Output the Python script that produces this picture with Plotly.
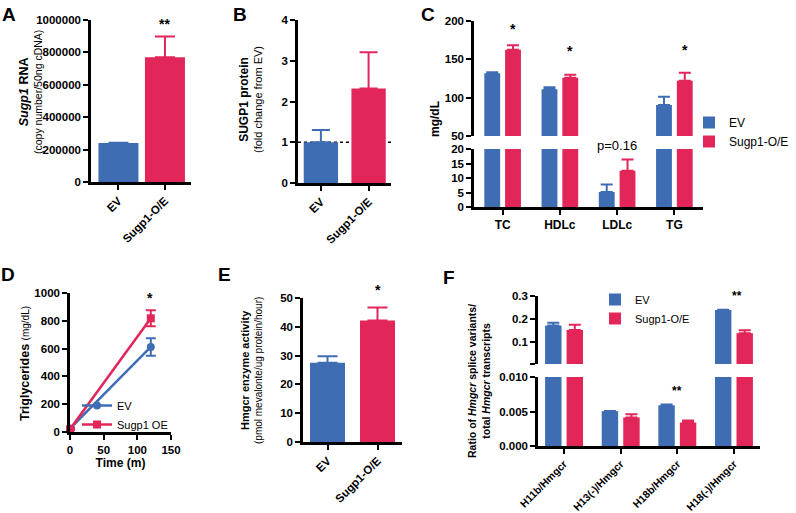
import plotly.graph_objects as go

W, H = 796, 513
BLUE = "#3F6DB4"
RED = "#E2265A"
FONT = "Liberation Sans, Arial, sans-serif"

# ---------------- data ----------------
groups = ["EV", "Sugp1-O/E"]

# A: Sugp1 RNA copy number
a_values = [240000, 770000]
a_err = [3000, 128000]

# B: SUGP1 protein fold change
b_values = [1.0, 2.32]
b_err = [0.30, 0.89]
b_baseline = 1.0

# C: plasma lipids (mg/dL)
c_categories = ["TC", "HDLc", "LDLc", "TG"]
c_ev = [132, 111, 5.2, 90.5]
c_ev_err = [1.2, 2.5, 2.6, 10.8]
c_oe = [162.5, 126, 12.5, 122]
c_oe_err = [5.8, 4.0, 3.9, 10.5]
c_upper_range = [50, 200]
c_lower_range = [0, 20]

# D: triglyceride secretion
d_time = [0, 120]
d_ev = [25, 612]
d_ev_err = [8, 63]
d_oe = [20, 818]
d_oe_err = [8, 57]

# E: Hmgcr enzyme activity
e_values = [27.5, 42.2]
e_err = [2.3, 4.5]

# F: Hmgcr splice variants
f_categories = ["H11b/Hmgcr", "H13(-)/Hmgcr", "H18b/Hmgcr", "H18(-)/Hmgcr"]
f_ev = [0.172, 0.00505, 0.0059, 0.239]
f_ev_err = [0.012, 0.00004, 0.0001, 0.002]
f_oe = [0.153, 0.00414, 0.0034, 0.139]
f_oe_err = [0.022, 0.00046, 0.0003, 0.013]
f_upper_range = [0.0056, 0.3]
f_lower_range = [0, 0.010]


def dx(l, r):
    return [l / W, r / W]


def dy(t, b):
    return [1 - b / H, 1 - t / H]


def px(x):
    return x / W


def py(y):
    return 1 - y / H


def segment(values, errs, lower_max, upper):
    """split a series over a broken axis: bars whose top lies in the lower
    segment are only drawn there; error bars only where the top is visible"""
    if upper:
        vals = [v if v > lower_max else None for v in values]
        es = [e if v > lower_max else None for v, e in zip(values, errs)]
    else:
        vals = list(values)
        es = [e if v <= lower_max else None for v, e in zip(values, errs)]
    return vals, es


TICKFONT = dict(family=FONT, size=11.5, color="black", weight="bold")
AX = dict(showline=True, linecolor="black", linewidth=2.5, ticks="outside",
          ticklen=5, tickwidth=2, tickcolor="black", showgrid=False,
          zeroline=False, tickfont=TICKFONT, automargin=False, fixedrange=True)

fig = go.Figure()


def err(arr, color, w):
    return dict(type="data", array=arr, symmetric=False, arrayminus=[0] * len(arr),
                color=color, thickness=2, width=w, visible=True)


colors = [BLUE, RED]

# ---- A ----
for i in range(2):
    fig.add_trace(go.Bar(x=[groups[i]], y=[a_values[i]], width=0.86,
                         marker=dict(color=colors[i], line=dict(width=0)),
                         error_y=err([a_err[i]], colors[i], 10),
                         xaxis="x", yaxis="y", showlegend=False))
# ---- B ----
for i in range(2):
    fig.add_trace(go.Bar(x=[groups[i]], y=[b_values[i]], width=0.72,
                         marker=dict(color=colors[i], line=dict(width=0)),
                         error_y=err([b_err[i]], colors[i], 9),
                         xaxis="x2", yaxis="y2", showlegend=False))
# ---- C (lower x3/y3, upper x4/y4) ----
for xa, ya, upper in (("x3", "y3", False), ("x4", "y4", True)):
    ev_v, ev_e = segment(c_ev, c_ev_err, c_lower_range[1], upper)
    oe_v, oe_e = segment(c_oe, c_oe_err, c_lower_range[1], upper)
    fig.add_trace(go.Bar(x=c_categories, y=ev_v, width=0.277, offset=-0.32,
                         marker=dict(color=BLUE, line=dict(width=0)), name="EV",
                         error_y=err(ev_e, BLUE, 6),
                         xaxis=xa, yaxis=ya, showlegend=not upper, legend="legend"))
    fig.add_trace(go.Bar(x=c_categories, y=oe_v, width=0.277, offset=0.043,
                         marker=dict(color=RED, line=dict(width=0)), name="Sugp1-O/E",
                         error_y=err(oe_e, RED, 6),
                         xaxis=xa, yaxis=ya, showlegend=not upper, legend="legend"))
# ---- D ----
fig.add_trace(go.Scatter(x=d_time, y=d_ev, mode="lines+markers", name="EV",
                         line=dict(color=BLUE, width=2.5),
                         marker=dict(symbol="circle", size=8, color=BLUE),
                         error_y=dict(type="data", array=d_ev_err, color=BLUE, thickness=2, width=5),
                         cliponaxis=False, xaxis="x5", yaxis="y5", legend="legend2"))
fig.add_trace(go.Scatter(x=d_time, y=d_oe, mode="lines+markers", name="Sugp1 OE",
                         line=dict(color=RED, width=2.5),
                         marker=dict(symbol="square", size=8, color=RED),
                         error_y=dict(type="data", array=d_oe_err, color=RED, thickness=2, width=5),
                         cliponaxis=False, xaxis="x5", yaxis="y5", legend="legend2"))
# ---- E ----
for i in range(2):
    fig.add_trace(go.Bar(x=[groups[i]], y=[e_values[i]], width=0.70,
                         marker=dict(color=colors[i], line=dict(width=0)),
                         error_y=err([e_err[i]], colors[i], 10),
                         xaxis="x6", yaxis="y6", showlegend=False))
# ---- F (lower x7/y7, upper x8/y8) ----
for xa, ya, upper in (("x7", "y7", False), ("x8", "y8", True)):
    ev_v, ev_e = segment(f_ev, f_ev_err, f_lower_range[1], upper)
    oe_v, oe_e = segment(f_oe, f_oe_err, f_lower_range[1], upper)
    fig.add_trace(go.Bar(x=f_categories, y=ev_v, width=0.29, offset=-0.335,
                         marker=dict(color=BLUE, line=dict(width=0)), name="EV",
                         error_y=err(ev_e, BLUE, 6),
                         xaxis=xa, yaxis=ya, showlegend=not upper, legend="legend3"))
    fig.add_trace(go.Bar(x=f_categories, y=oe_v, width=0.29, offset=0.045,
                         marker=dict(color=RED, line=dict(width=0)), name="Sugp1-O/E",
                         error_y=err(oe_e, RED, 6),
                         xaxis=xa, yaxis=ya, showlegend=not upper, legend="legend3"))

# ---------------- axes ----------------
cat_x = dict(AX, tickangle=-45, type="category")
fig.update_layout(
    # A
    xaxis=dict(cat_x, domain=dx(91, 191), anchor="y", range=[-0.59, 1.56]),
    yaxis=dict(AX, domain=dy(20, 182), anchor="x", range=[0, 1000000],
               tickvals=[0, 200000, 400000, 600000, 800000, 1000000],
               ticktext=["0", "200000", "400000", "600000", "800000", "1000000"]),
    # B
    xaxis2=dict(cat_x, domain=dx(298, 391), anchor="y2", range=[-0.48, 1.47]),
    yaxis2=dict(AX, domain=dy(20, 183), anchor="x2", range=[0, 4], dtick=1),
    # C lower
    xaxis3=dict(AX, type="category", domain=dx(474, 703), anchor="y3", range=[-0.5, 3.5],
                tickfont=dict(TICKFONT, size=12)),
    yaxis3=dict(AX, domain=dy(149, 207), anchor="x3", range=c_lower_range, dtick=5),
    # C upper
    xaxis4=dict(type="category", domain=dx(474, 703), anchor="y4", range=[-0.5, 3.5],
                visible=False, fixedrange=True),
    yaxis4=dict(AX, domain=dy(21, 136), anchor="x4", range=c_upper_range,
                tickvals=[50, 100, 150, 200]),
    # D
    xaxis5=dict(AX, domain=dx(70, 171), anchor="y5", range=[0, 150], dtick=50,
                title=dict(text="<b>Time (m)</b>", font=dict(family=FONT, size=12, color="black"),
                           standoff=3)),
    yaxis5=dict(AX, domain=dy(293, 432), anchor="x5", range=[0, 1000], dtick=200),
    # E
    xaxis6=dict(cat_x, domain=dx(303, 402), anchor="y6", range=[-0.49, 1.49]),
    yaxis6=dict(AX, domain=dy(298, 442), anchor="x6", range=[0, 50], dtick=10),
    # F lower
    xaxis7=dict(cat_x, domain=dx(538, 760), anchor="y7", range=[-0.46, 3.46],
                tickfont=dict(TICKFONT, size=10.5)),
    yaxis7=dict(AX, domain=dy(377, 446), anchor="x7", range=f_lower_range,
                tickvals=[0, 0.005, 0.010], ticktext=["0.000", "0.005", "0.010"]),
    # F upper
    xaxis8=dict(type="category", domain=dx(538, 760), anchor="y8", range=[-0.46, 3.46],
                visible=False, fixedrange=True),
    yaxis8=dict(AX, domain=dy(296, 364), anchor="x8", range=f_upper_range,
                tickvals=[f_upper_range[0], 0.1, 0.2, 0.3], ticktext=["", "0.1", "0.2", "0.3"]),
)

# dotted baseline in B
fig.add_shape(type="line", xref="x2 domain", yref="y2", x0=0, x1=1,
              y0=b_baseline, y1=b_baseline, layer="below",
              line=dict(color="black", width=1.5, dash="dot"))

# ---------------- annotations ----------------
ann = []


def text(x, y, s, size, xref="paper", yref="paper", angle=0, yshift=0):
    ann.append(dict(x=x, y=y, xref=xref, yref=yref, text=s, showarrow=False,
                    textangle=angle, xanchor="center", yanchor="middle", yshift=yshift,
                    font=dict(family=FONT, size=size, color="black")))


# panel letters
for letter, x, y in (("A", 9, 14), ("B", 240, 14), ("C", 428, 14),
                     ("D", 8, 274), ("E", 225, 274), ("F", 449, 277)):
    text(px(x), py(y), "<b>%s</b>" % letter, 19)

# y-axis titles
text(px(30), py(92), "<span style='font-size:12.5px'><b><i>Sugp1</i> RNA</b></span><br>(copy number/50ng cDNA)", 10.5, angle=-90)
text(px(250), py(100), "<span style='font-size:12px'><b>SUGP1 protein</b></span><br>(fold change from EV)", 11, angle=-90)
text(px(435), py(119), "<b>mg/dL</b>", 12, angle=-90)
text(px(25), py(364), "<b>Triglycerides</b> <span style='font-size:10px'>(mg/dL)</span>", 12.5, angle=-90)
text(px(251), py(371), "<span style='font-size:11px'><b>Hmgcr enzyme activity</b></span><br>(pmol mevalonte/ug protein/hour)", 10, angle=-90)
text(px(479), py(381), "<b>Ratio of <i>Hmgcr</i> splice variants/<br>total <i>Hmgcr</i> transcripts</b>", 10.5, angle=-90)

# significance marks (data coordinates, anchored inside the axis ranges)
text(1, 1000000, "<b>**</b>", 14, xref="x", yref="y", yshift=-4)
text(0.18, 189.5, "<b>*</b>", 14, xref="x3", yref="y4")
text(1.18, 161.5, "<b>*</b>", 14, xref="x3", yref="y4")
text(3.18, 162.5, "<b>*</b>", 14, xref="x3", yref="y4")
text(2, 20, "p=0.16", 13, xref="x3", yref="y3", yshift=4)
text(119, 1000, "<b>*</b>", 14, xref="x5", yref="y5", yshift=-5)
text(1, 50, "<b>*</b>", 14, xref="x6", yref="y6", yshift=8)
text(2, 0.0079, "<b>**</b>", 12, xref="x7", yref="y7")
text(3.05, 0.3, "<b>**</b>", 12, xref="x7", yref="y8")

fig.update_layout(
    annotations=ann,
    width=W, height=H,
    margin=dict(l=0, r=0, t=0, b=0),
    paper_bgcolor="white", plot_bgcolor="white",
    template="none",
    barmode="overlay",
    font=dict(family=FONT, color="black"),
    legend=dict(x=px(689), y=py(108), xanchor="left", yanchor="top",
                bgcolor="rgba(0,0,0,0)", font=dict(family=FONT, size=12, color="black"),
                tracegroupgap=0),
    legend2=dict(x=px(77), y=py(391), xanchor="left", yanchor="top",
                 bgcolor="rgba(0,0,0,0)", font=dict(family=FONT, size=11, color="black"),
                 itemwidth=30),
    legend3=dict(x=px(595), y=py(285), xanchor="left", yanchor="top",
                 bgcolor="rgba(0,0,0,0)", font=dict(family=FONT, size=11, color="black")),
)

fig.write_html("out.html", config={"displayModeBar": False},
               post_script="document.body.style.margin='0';")
